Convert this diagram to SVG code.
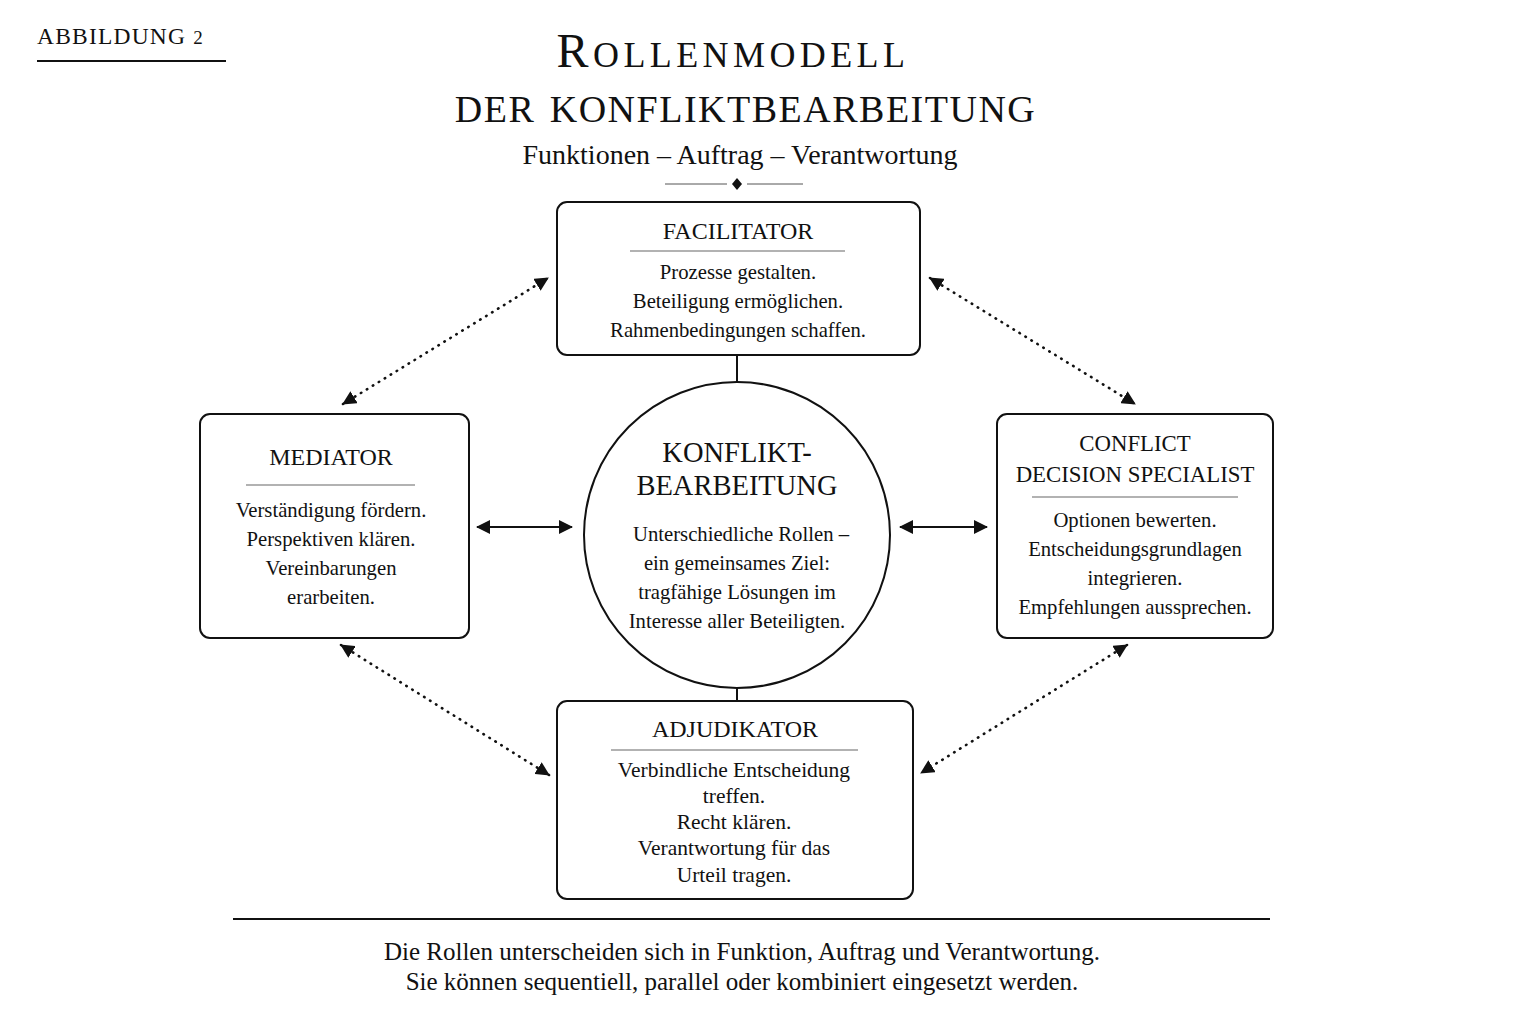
<svg xmlns="http://www.w3.org/2000/svg" width="1536" height="1024" viewBox="0 0 1536 1024">
<style>
text{font-family:"Liberation Serif","DejaVu Serif",serif;fill:#111;text-anchor:middle}
.box{fill:#fff;stroke:#111;stroke-width:2}
.sep{stroke:#999;stroke-width:1.3}
.ttl{font-size:24px}
.body{font-size:20.7px}
.solid{stroke:#111;stroke-width:2;fill:none}
.dot{stroke:#111;stroke-width:2.6;fill:none;stroke-dasharray:0.5 6.5;stroke-linecap:round}
</style>
<defs>
<marker id="ah" viewBox="0 0 14 14" refX="13" refY="7" markerWidth="14" markerHeight="14" markerUnits="userSpaceOnUse" orient="auto-start-reverse">
<path d="M0,0 L14,7 L0,14 Z" fill="#111"/>
</marker>
<marker id="ahs" viewBox="0 0 14 14" refX="13" refY="7" markerWidth="14" markerHeight="14" markerUnits="userSpaceOnUse" orient="auto-start-reverse">
<path d="M0,0 L14,7 L0,14 Z" fill="#111"/>
</marker>
</defs>
<rect width="1536" height="1024" fill="#fff"/>

<g id="header">
<text x="37" y="44" style="text-anchor:start;font-size:23.5px;letter-spacing:1.2px">ABBILDUNG <tspan style="font-size:19px">2</tspan></text>
<line x1="37" y1="61" x2="226" y2="61" stroke="#111" stroke-width="2"/>
<text x="733" y="67" style="font-size:36px;letter-spacing:4.4px"><tspan style="font-size:48px">R</tspan>OLLENMODELL</text>
<text x="745" y="122" style="font-size:38px;letter-spacing:1.5px"><tspan x="495">DER</tspan><tspan x="793">KONFLIKTBEARBEITUNG</tspan></text>
<text x="740" y="164" style="font-size:28px">Funktionen – Auftrag – Verantwortung</text>
<line x1="665" y1="184" x2="727" y2="184" stroke="#555" stroke-width="1"/>
<line x1="747" y1="184" x2="803" y2="184" stroke="#555" stroke-width="1"/>
<path d="M737,178 L742,184 L737,190 L732,184 Z" fill="#111"/>
</g>

<g id="connectors">
<line class="solid" x1="737" y1="355" x2="737" y2="384"/>
<line class="solid" x1="737" y1="686" x2="737" y2="701"/>
<line class="solid" x1="477" y1="527" x2="572" y2="527" marker-start="url(#ahs)" marker-end="url(#ahs)"/>
<line class="solid" x1="900" y1="527" x2="987" y2="527" marker-start="url(#ahs)" marker-end="url(#ahs)"/>
<line class="dot" x1="343" y1="404" x2="548" y2="278" marker-start="url(#ah)" marker-end="url(#ah)"/>
<line class="dot" x1="930" y1="278" x2="1135" y2="404" marker-start="url(#ah)" marker-end="url(#ah)"/>
<line class="dot" x1="341" y1="645" x2="549" y2="775" marker-start="url(#ah)" marker-end="url(#ah)"/>
<line class="dot" x1="1127" y1="645" x2="921" y2="773" marker-start="url(#ah)" marker-end="url(#ah)"/>
</g>

<g id="facilitator">
<rect class="box" x="557" y="202" width="363" height="153" rx="10"/>
<text class="ttl" x="738" y="239">FACILITATOR</text>
<line class="sep" x1="630" y1="251" x2="845" y2="251"/>
<text class="body" x="738" y="279">Prozesse gestalten.</text>
<text class="body" x="738" y="308">Beteiligung ermöglichen.</text>
<text class="body" x="738" y="337">Rahmenbedingungen schaffen.</text>
</g>

<g id="center">
<circle cx="737" cy="535" r="153" fill="#fff" stroke="#111" stroke-width="2"/>
<text x="737" y="462" style="font-size:28.5px">KONFLIKT-</text>
<text x="737" y="495" style="font-size:28.5px">BEARBEITUNG</text>
<text class="body" x="741" y="541">Unterschiedliche Rollen –</text>
<text class="body" x="737" y="570">ein gemeinsames Ziel:</text>
<text class="body" x="737" y="599">tragfähige Lösungen im</text>
<text class="body" x="737" y="628">Interesse aller Beteiligten.</text>
</g>

<g id="mediator">
<rect class="box" x="200" y="414" width="269" height="224" rx="10"/>
<text class="ttl" x="331" y="465">MEDIATOR</text>
<line class="sep" x1="246" y1="485" x2="415" y2="485"/>
<text class="body" x="331" y="517">Verständigung fördern.</text>
<text class="body" x="331" y="546">Perspektiven klären.</text>
<text class="body" x="331" y="575">Vereinbarungen</text>
<text class="body" x="331" y="604">erarbeiten.</text>
</g>

<g id="conflict-decision-specialist">
<rect class="box" x="997" y="414" width="276" height="224" rx="10"/>
<text class="ttl" x="1135" y="451" style="font-size:22.8px">CONFLICT</text>
<text class="ttl" x="1135" y="482" style="font-size:22.8px">DECISION SPECIALIST</text>
<line class="sep" x1="1032" y1="497" x2="1238" y2="497"/>
<text class="body" x="1135" y="527">Optionen bewerten.</text>
<text class="body" x="1135" y="556">Entscheidungsgrundlagen</text>
<text class="body" x="1135" y="585">integrieren.</text>
<text class="body" x="1135" y="614">Empfehlungen aussprechen.</text>
</g>

<g id="adjudikator">
<rect class="box" x="557" y="701" width="356" height="198" rx="10"/>
<text class="ttl" x="735" y="737">ADJUDIKATOR</text>
<line class="sep" x1="611" y1="750" x2="858" y2="750"/>
<text class="body" x="734" y="777" style="font-size:21.5px">Verbindliche Entscheidung</text>
<text class="body" x="734" y="803" style="font-size:21.5px">treffen.</text>
<text class="body" x="734" y="829" style="font-size:21.5px">Recht klären.</text>
<text class="body" x="734" y="855" style="font-size:21.5px">Verantwortung für das</text>
<text class="body" x="734" y="882" style="font-size:21.5px">Urteil tragen.</text>
</g>

<g id="footer">
<line x1="233" y1="919" x2="1270" y2="919" stroke="#111" stroke-width="2"/>
<text x="742" y="960" style="font-size:25px">Die Rollen unterscheiden sich in Funktion, Auftrag und Verantwortung.</text>
<text x="742" y="990" style="font-size:25px">Sie können sequentiell, parallel oder kombiniert eingesetzt werden.</text>
</g>
</svg>
